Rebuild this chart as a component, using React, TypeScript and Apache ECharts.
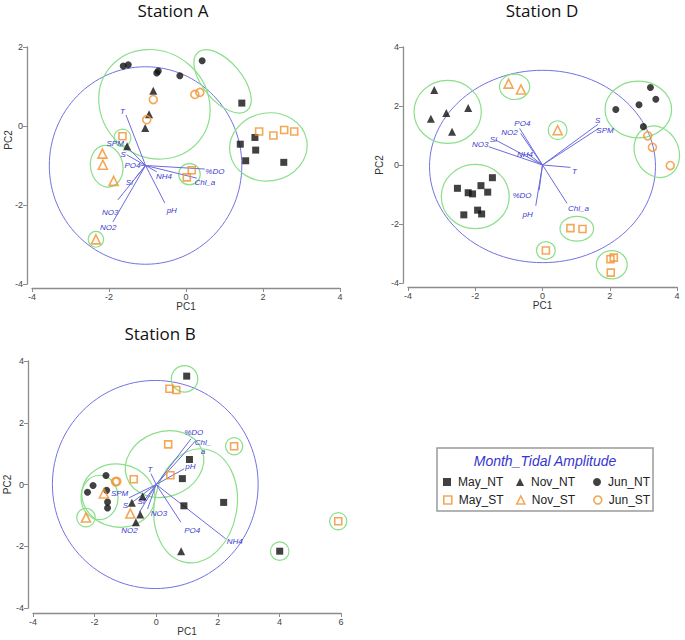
import React, { useEffect, useRef } from 'react';
import * as echarts from 'echarts';

// ---------- shared names ----------
const groupNames = ['May_NT', 'Nov_NT', 'Jun_NT', 'May_ST', 'Nov_ST', 'Jun_ST'];
const vectorNames = ['T', 'SPM', 'S', 'PO4', 'Si', 'NO3', 'NO2', 'pH', 'NH4', '%DO', 'Chl_a'];
const vectorNamesB = ['T', 'SPM', 'S', 'PO4', 'Si', 'NO3', 'NO2', 'pH', 'NH4', '%DO', 'Chl_\na'];
const stationTitles = ['Station A', 'Station D', 'Station B'];
const xTicksAD = [-4, 4];
const xTicksB = [-4, 6];
const yTicksA = [-4, 2];
const yTicksDB = [-4, 4];

// ---------- Station A ----------
const aMayNT = [[1.45, 0.58], [1.41, -0.46], [1.79, -0.29], [1.55, -0.88], [1.81, -0.61], [2.54, -0.92]];
const aNovNT = [[-0.85, 0.89], [-0.96, 0.3], [-1.06, -0.05], [-1.53, -0.51]];
const aJunNT = [[-1.63, 1.52], [-1.5, 1.55], [-0.76, 1.34], [-0.72, 1.39], [-0.16, 1.27], [0.42, 1.65]];
const aMayST = [[-1.65, -0.26], [0.15, -1.12], [0.02, -1.3], [1.9, -0.14], [2.27, -0.24], [2.55, -0.1], [2.81, -0.14]];
const aNovST = [[-2.17, -0.7], [-2.16, -0.98], [-1.88, -1.39], [-2.34, -2.87]];
const aJunST = [[-0.85, 0.67], [-1.02, 0.16], [0.23, 0.8], [0.36, 0.85]];
const aOrigin = [-1.05, -1.0];
const aVecEnds = [[-1.56, 0.28], [-1.45, -0.61], [-1.54, -0.73], [-1.19, -0.99], [-1.32, -1.32], [-1.77, -1.87], [-1.9, -2.43], [-0.55, -1.95], [-0.76, -1.16], [0.49, -1.09], [0.28, -1.32]];
const aVecLabels = [[-1.65, 0.37], [-1.84, -0.45], [-1.63, -0.72], [-1.39, -1.0], [-1.47, -1.42], [-1.97, -2.18], [-2.02, -2.56], [-0.37, -2.13], [-0.57, -1.29], [0.75, -1.16], [0.49, -1.42]];
// [cx, cy, rx, ry, rotationDeg]
const aEllipses = [[-0.82, 0.55, 1.5, 1.33, -40], [0.95, 1.13, 0.99, 0.49, -50], [2.14, -0.53, 1.01, 0.86, 10], [-1.65, -0.3, 0.22, 0.22, 0], [-2.06, -1.02, 0.42, 0.53, 10], [0.09, -1.22, 0.28, 0.27, 0], [-2.34, -2.87, 0.2, 0.2, 0]];
const aCircle = [[-1.05, -1.0, 2.5, 2.5, 0]];

// ---------- Station D ----------
const dMayNT = [[-2.53, -0.79], [-2.21, -0.94], [-2.08, -0.98], [-1.83, -0.7], [-1.63, -0.92], [-1.49, -0.43], [-1.93, -1.53], [-1.81, -1.66], [-2.34, -1.69]];
const dNovNT = [[-3.22, 2.54], [-3.32, 1.57], [-2.86, 1.76], [-2.21, 1.93], [-2.69, 1.13]];
const dJunNT = [[2.18, 1.88], [2.87, 2.04], [3.21, 2.63], [3.37, 2.23], [3.0, 1.3]];
const dMayST = [[0.83, -2.14], [1.19, -2.17], [0.1, -2.9], [2.02, -3.19], [2.12, -3.14], [2.03, -3.65]];
const dNovST = [[-1.01, 2.76], [-0.64, 2.56], [0.45, 1.18]];
const dJunST = [[3.13, 0.99], [3.27, 0.6], [3.8, -0.02]];
const dOrigin = [0, 0];
const dVecEnds = [[0.83, -0.08], [1.68, 1.25], [1.65, 1.38], [-0.68, 1.24], [-1.4, 0.85], [-1.6, 0.62], [-0.65, 1.07], [-0.2, -1.38], [-0.46, 0.4], [-0.1, -0.85], [0.73, -1.3]];
const dVecLabels = [[0.95, -0.23], [1.86, 1.18], [1.64, 1.5], [-0.6, 1.42], [-1.46, 0.87], [-1.85, 0.71], [-0.98, 1.11], [-0.44, -1.67], [-0.52, 0.34], [-0.61, -1.05], [1.07, -1.49]];
const dEllipses = [[-2.82, 1.8, 1.0, 1.07, 0], [-0.83, 2.65, 0.45, 0.43, 0], [0.45, 1.18, 0.28, 0.32, 0], [2.85, 1.88, 0.99, 0.96, 0], [3.4, 0.45, 0.65, 0.9, 25], [-2.0, -1.07, 1.01, 1.09, 0], [1.02, -2.16, 0.5, 0.42, 0], [0.1, -2.9, 0.28, 0.3, 0], [2.06, -3.38, 0.46, 0.48, 0]];
const dCircle = [[0, -0.05, 3.36, 3.26, 0]];

// ---------- Station B ----------
const bMayNT = [[0.99, 3.51], [1.08, 0.81], [0.85, 0.19], [0.9, -0.69], [2.19, -0.58], [4.01, -2.16]];
const bNovNT = [[-0.79, -0.59], [-0.44, -0.39], [-0.52, -0.97], [-0.66, -1.22], [0.81, -2.16]];
const bJunNT = [[-1.63, 0.29], [-2.05, -0.03], [-2.23, -0.25], [-1.61, -0.19], [-1.58, -0.57], [-1.58, -0.76]];
const bMayST = [[0.43, 3.1], [0.65, 3.06], [0.39, 1.3], [-0.73, 0.17], [0.46, 0.3], [2.53, 1.24], [5.91, -1.19]];
const bNovST = [[-1.7, -0.29], [-0.84, -0.94], [-2.28, -1.07]];
const bJunST = [[-1.32, 0.09], [-1.28, 0.1]];
const bOrigin = [0, 0];
const bVecEnds = [[-0.17, 0.35], [-0.88, -0.43], [-0.77, -0.57], [0.8, -1.22], [-0.39, -0.52], [-0.28, -0.79], [-0.55, -0.9], [0.91, 0.51], [2.26, -1.76], [1.13, 1.48], [1.29, 1.43]];
const bVecLabels = [[-0.2, 0.5], [-1.19, -0.29], [-1.0, -0.67], [1.17, -1.48], [-0.49, -0.56], [0.09, -0.94], [-0.87, -1.48], [1.11, 0.57], [2.55, -1.86], [1.22, 1.7], [1.52, 1.2]];
const bEllipses = [[0.92, 3.42, 0.43, 0.43, 0], [2.53, 1.24, 0.28, 0.28, 0], [5.91, -1.19, 0.28, 0.28, 0], [4.01, -2.16, 0.3, 0.3, 0], [-2.28, -1.07, 0.3, 0.3, 0], [-1.84, -0.42, 0.6, 0.72, 0], [-1.23, -0.36, 1.19, 1.02, -10], [0.27, 0.66, 1.3, 1.05, 20], [1.28, -0.69, 1.34, 1.86, -10]];
const bCircle = [[-0.03, 0, 3.34, 3.37, 0]];

// ---------- styles ----------
const ORANGE = '#f0922e';
const BLACK = '#111111';
const GREEN = '#8adf8a';
const BLUE_CIRCLE = '#7272e2';
const VEC = '#6b6bdf';
const VEC_TEXT = '#3b3bd0';
const AXIS = '#8c8c8c';
const FONT = 'Liberation Sans';

const MARKERS: Record<string, { symbol: string; size: number; filled: boolean }> = {
  May_NT: { symbol: 'rect', size: 7, filled: true },
  Nov_NT: { symbol: 'triangle', size: 8, filled: true },
  Jun_NT: { symbol: 'circle', size: 7, filled: true },
  May_ST: { symbol: 'rect', size: 7, filled: false },
  Nov_ST: { symbol: 'triangle', size: 9, filled: false },
  Jun_ST: { symbol: 'circle', size: 8, filled: false },
};

function markerItemStyle(name: string) {
  return MARKERS[name].filled
    ? { color: BLACK }
    : { color: 'rgba(255,255,255,0)', borderColor: ORANGE, borderWidth: 1.6 };
}

function scatter(gi: number, name: string, data: number[][]) {
  const m = MARKERS[name];
  return {
    type: 'scatter', name, xAxisIndex: gi, yAxisIndex: gi, data,
    symbol: m.symbol, symbolSize: m.size, z: 5,
    itemStyle: markerItemStyle(name),
  };
}

function ellipses(gi: number, data: number[][], color: string, width: number) {
  return {
    type: 'custom', xAxisIndex: gi, yAxisIndex: gi, data, silent: true, z: 2,
    encode: { x: 0, y: 1 },
    renderItem: (params: any, api: any) => {
      const c = api.coord([api.value(0), api.value(1)]);
      const s = api.size([api.value(2), api.value(3)]);
      return {
        type: 'ellipse', x: c[0], y: c[1],
        rotation: (api.value(4) * Math.PI) / 180,
        shape: { cx: 0, cy: 0, rx: s[0], ry: s[1] },
        style: { fill: 'none', stroke: color, lineWidth: width },
      };
    },
  };
}

function vectors(gi: number, origin: number[], ends: number[][], labels: number[][], names: string[]) {
  return {
    type: 'custom', xAxisIndex: gi, yAxisIndex: gi, data: ends, silent: true, z: 3,
    encode: { x: 0, y: 1 },
    renderItem: (params: any, api: any) => {
      const i = params.dataIndex;
      const o = api.coord(origin);
      const e = api.coord(ends[i]);
      const l = api.coord(labels[i]);
      return {
        type: 'group',
        children: [
          { type: 'line', shape: { x1: o[0], y1: o[1], x2: e[0], y2: e[1] }, style: { stroke: VEC, lineWidth: 1 } },
          {
            type: 'text', x: l[0], y: l[1],
            style: {
              text: names[i], fill: VEC_TEXT, fontSize: 8, fontStyle: 'italic', fontFamily: FONT,
              align: 'center', verticalAlign: 'middle', textAlign: 'center', textVerticalAlign: 'middle',
              lineHeight: 9,
            },
          },
        ],
      };
    },
  };
}

const axisBase = {
  type: 'value',
  axisLine: { show: true, onZero: false, lineStyle: { color: AXIS, width: 1.3 } },
  axisTick: { show: true, length: 4, lineStyle: { color: AXIS } },
  axisLabel: { fontSize: 9, color: '#444', fontFamily: FONT, margin: 4 },
  splitLine: { show: false },
  nameTextStyle: { fontSize: 10, color: '#333', fontFamily: FONT },
};

export default function App() {
  const ref = useRef<HTMLDivElement>(null);
  useEffect(() => {
    if (!ref.current) return;
    const chart = echarts.init(ref.current, null, { renderer: 'svg' });
    const stations = [
      { gi: 0, groups: [aMayNT, aNovNT, aJunNT, aMayST, aNovST, aJunST], ell: aEllipses, circ: aCircle, origin: aOrigin, ends: aVecEnds, labels: aVecLabels, names: vectorNames },
      { gi: 1, groups: [dMayNT, dNovNT, dJunNT, dMayST, dNovST, dJunST], ell: dEllipses, circ: dCircle, origin: dOrigin, ends: dVecEnds, labels: dVecLabels, names: vectorNames },
      { gi: 2, groups: [bMayNT, bNovNT, bJunNT, bMayST, bNovST, bJunST], ell: bEllipses, circ: bCircle, origin: bOrigin, ends: bVecEnds, labels: bVecLabels, names: vectorNamesB },
    ];
    const series: any[] = [];
    stations.forEach((s) => {
      series.push(ellipses(s.gi, s.circ, BLUE_CIRCLE, 1));
      series.push(ellipses(s.gi, s.ell, GREEN, 1.2));
      series.push(vectors(s.gi, s.origin, s.ends, s.labels, s.names));
      groupNames.forEach((g, k) => series.push(scatter(s.gi, g, s.groups[k])));
    });

    const legendPos = [[443, 476], [516, 476], [593, 476], [443, 494], [516, 494], [593, 494]];
    const legends = groupNames.map((g, i) => ({
      data: [{ name: g, icon: MARKERS[g].symbol, itemStyle: markerItemStyle(g) }],
      left: legendPos[i][0], top: legendPos[i][1], padding: 0,
      itemWidth: 8, itemHeight: 8, itemGap: 0, selectedMode: false,
      textStyle: { fontSize: 12, color: '#222', fontFamily: FONT, padding: [0, 0, 0, 2] },
    }));

    const option: any = {
      animation: false,
      backgroundColor: '#ffffff',
      grid: [
        { left: 32, top: 47, width: 308, height: 237 },
        { left: 408, top: 47, width: 269, height: 236 },
        { left: 33, top: 361, width: 308, height: 247 },
      ],
      xAxis: [
        { ...axisBase, gridIndex: 0, min: xTicksAD[0], max: xTicksAD[1], interval: 2, offset: 4, name: 'PC1', nameLocation: 'middle', nameGap: 13 },
        { ...axisBase, gridIndex: 1, min: xTicksAD[0], max: xTicksAD[1], interval: 2, offset: 4, name: 'PC1', nameLocation: 'middle', nameGap: 13 },
        { ...axisBase, gridIndex: 2, min: xTicksB[0], max: xTicksB[1], interval: 2, offset: 5, name: 'PC1', nameLocation: 'middle', nameGap: 13 },
      ],
      yAxis: [
        { ...axisBase, gridIndex: 0, min: yTicksA[0], max: yTicksA[1], interval: 2, offset: 5 },
        { ...axisBase, gridIndex: 1, min: yTicksDB[0], max: yTicksDB[1], interval: 2, offset: 5, name: 'PC2', nameLocation: 'middle', nameGap: 19 },
        { ...axisBase, gridIndex: 2, min: yTicksDB[0], max: yTicksDB[1], interval: 2, offset: 5, name: 'PC2', nameLocation: 'middle', nameGap: 14 },
      ],
      legend: legends,
      series,
      graphic: [
        { type: 'text', x: 173, y: 10, style: { text: stationTitles[0], fontSize: 17, fontFamily: 'Open Sans', fill: '#111', align: 'center', verticalAlign: 'middle', textAlign: 'center', textVerticalAlign: 'middle' } },
        { type: 'text', x: 542, y: 10, style: { text: stationTitles[1], fontSize: 17, fontFamily: 'Open Sans', fill: '#111', align: 'center', verticalAlign: 'middle', textAlign: 'center', textVerticalAlign: 'middle' } },
        { type: 'text', x: 160, y: 333, style: { text: stationTitles[2], fontSize: 17, fontFamily: 'Open Sans', fill: '#111', align: 'center', verticalAlign: 'middle', textAlign: 'center', textVerticalAlign: 'middle' } },
        { type: 'text', x: 8, y: 140, rotation: Math.PI / 2, style: { text: 'PC2', fontSize: 10, fontFamily: FONT, fill: '#333', align: 'center', verticalAlign: 'middle', textAlign: 'center', textVerticalAlign: 'middle' } },
        { type: 'rect', shape: { x: 437, y: 448, width: 216, height: 63 }, style: { fill: 'none', stroke: '#9a9a9a', lineWidth: 1.5 } },
        { type: 'text', x: 545, y: 461, style: { text: 'Month_Tidal Amplitude', fontSize: 14, fontStyle: 'italic', fontFamily: FONT, fill: '#3535d0', align: 'center', verticalAlign: 'middle', textAlign: 'center', textVerticalAlign: 'middle' } },
      ],
    };
    chart.setOption(option);
    return () => chart.dispose();
  }, []);
  return <div ref={ref} style={{ position: 'absolute', left: 0, top: 0, width: 685, height: 640, background: '#fff' }} />;
}
